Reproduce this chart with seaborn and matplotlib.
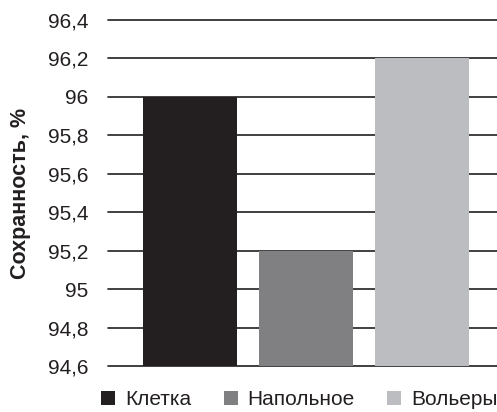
import matplotlib
matplotlib.use("Agg")
import matplotlib.pyplot as plt
import seaborn as sns
import pandas as pd

# Survival rate by housing type
housing = ["Клетка", "Напольное", "Вольеры"]
survival = [96.0, 95.2, 96.2]
colors = ["#231f20", "#808083", "#bcbdc0"]
y_ticks = [94.6, 94.8, 95.0, 95.2, 95.4, 95.6, 95.8, 96.0, 96.2, 96.4]
y_label = "Сохранность, %"

sns.set_theme(style="white")
plt.rcParams["font.family"] = ["Liberation Sans", "DejaVu Sans"]

df = pd.DataFrame({"housing": housing, "survival": survival})

fig = plt.figure(figsize=(4.97, 4.12), dpi=100)
ax = fig.add_axes([108 / 497, 46 / 412, 396 / 497, 346 / 412])

sns.barplot(data=df, x="housing", y="survival", hue="housing",
            palette=colors, width=0.81, dodge=False, saturation=1,
            edgecolor="none", linewidth=0,
            ax=ax, legend=True, zorder=3)

ax.set_xlim(-0.707, 2.707)
ax.set_ylim(y_ticks[0], y_ticks[-1])
ax.set_yticks(y_ticks)
ax.set_yticklabels([f"{v:g}".replace(".", ",") for v in y_ticks])
ax.set_xticks([])
ax.set_xlabel("")
ax.set_ylabel(y_label, fontsize=15.5, fontweight="bold", color="#231f20", labelpad=12)
ax.tick_params(axis="y", length=0, pad=14, labelsize=15, labelcolor="#231f20")

for s in ax.spines.values():
    s.set_visible(False)

ax.set_axisbelow(True)
ax.yaxis.grid(True, color="#231f20", linewidth=1.2)
for gl in ax.get_ygridlines():
    gl.set_clip_on(False)

handles, labels = ax.get_legend_handles_labels()
ax.get_legend().remove()
fig.legend(handles, labels, loc="center left", bbox_to_anchor=(101 / 497, 12.5 / 412),
           ncol=3, frameon=False, fontsize=15, borderpad=0, borderaxespad=0,
           handlelength=0.68, handleheight=0.68, handletextpad=0.48,
           columnspacing=1.55, labelcolor="#231f20")

fig.savefig("out.png", dpi=100)
